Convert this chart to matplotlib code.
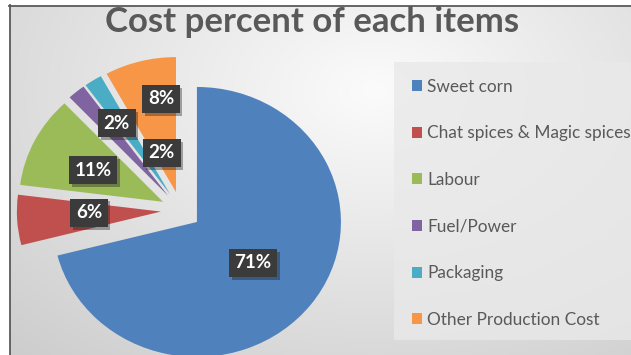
import numpy as np
import matplotlib.pyplot as plt
import matplotlib.patheffects as pe
from matplotlib.patches import Rectangle
from matplotlib.lines import Line2D

plt.rcParams['font.family'] = ['Lato', 'DejaVu Sans']

##################
## Data
##################
items = ['Sweet corn', 'Chat spices & Magic spices', 'Labour',
         'Fuel/Power', 'Packaging', 'Other Production Cost']
percent = [71, 6, 11, 2, 2, 8]
colors = ['#4F81BD', '#C0504D', '#9BBB59', '#8064A2', '#4BACC6', '#F79646']

# label placement (radius, angle nudge) - mimics excel "best fit"
lab_r = [0.634, 0.64, 0.68, 0.785, 0.446, 0.837]
lab_da = [0, -2, 0.9, -5, -15, -4.8]

W, H = 631, 355
fig = plt.figure(figsize=(W/100, H/100), dpi=100)
fig.patch.set_facecolor('white')

##################
## Background
##################
bg = fig.add_axes([0, 0, 1, 1])
yy, xx = np.mgrid[0:H, 0:W]
d = np.sqrt(((xx-370)/450.)**2 + ((yy-85)/300.)**2)
v = np.clip(0.985 - 0.15*d, 0.78, 1)
bg.imshow(np.dstack([v, v, v]), extent=(10, W, H, 6), aspect='auto',
          interpolation='bilinear')
bg.set_xlim(0, W)
bg.set_ylim(H, 0)
bg.axis('off')
bg.add_patch(Rectangle((394, 62), 240, 278, facecolor='#e9e9e9',
                       edgecolor='none', alpha=0.8))
bg.add_line(Line2D([9.5, 9.5], [5, H], color='#5a5a5a', lw=1.3))
bg.add_line(Line2D([9, W], [5.5, 5.5], color='#5a5a5a', lw=1.3))

##################
## Pie
##################
ax = fig.add_axes([0, 0, 1, 1])
ax.patch.set_alpha(0)
wedges, _ = ax.pie(percent, colors=colors, explode=[0.14]*len(percent),
                   startangle=90, counterclock=False,
                   wedgeprops=dict(linewidth=0))
ax.set_aspect('auto')
cx, cy, rx, ry = 181., 210.4, 144., 135.
ax.set_xlim(-cx/rx, (W-cx)/rx)
ax.set_ylim(-(H-cy)/ry, cy/ry)
ax.axis('off')

for w, p, r, da in zip(wedges, percent, lab_r, lab_da):
    mid = np.deg2rad((w.theta1 + w.theta2)/2. + da)
    t = ax.text(r*np.cos(mid), r*np.sin(mid), str(p)+'%', ha='center',
                va='center', fontsize=13.5, fontweight='bold', color='white',
                bbox=dict(boxstyle='square,pad=0.3', facecolor='#3b3b3b',
                          edgecolor='none'))
    t.get_bbox_patch().set_path_effects(
        [pe.withSimplePatchShadow(offset=(2, -2), alpha=0.35), pe.Normal()])

##################
## Title & legend
##################
fig.text(312/W, 1-22/H, 'Cost percent of each items', ha='center',
         va='center', fontsize=25, fontweight='bold', color='#595959')

leg = fig.legend(wedges, items, loc='upper left',
                 bbox_to_anchor=(403/W, 1-70/H), frameon=False,
                 fontsize=12.4, labelcolor='#595959', handlelength=0.62,
                 handleheight=0.62, handletextpad=0.3, labelspacing=1.78,
                 borderpad=0)

fig.savefig('out.png', dpi=100)
